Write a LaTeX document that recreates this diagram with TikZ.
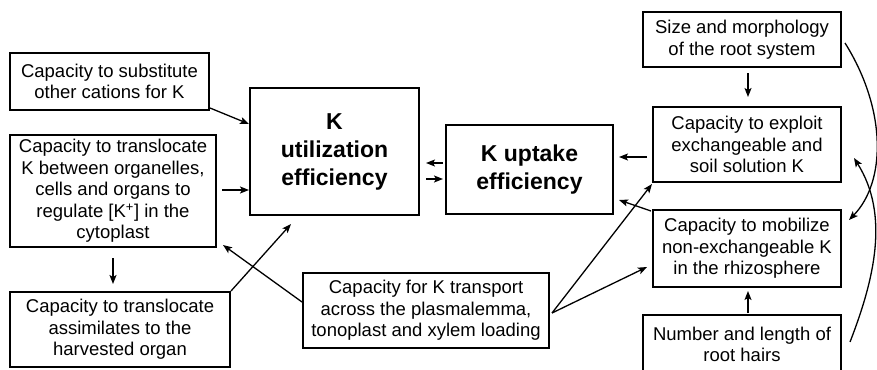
\documentclass[tikz,border=0pt]{standalone}
\usepackage{fontspec}
\setmainfont{Liberation Sans}
\usetikzlibrary{arrows.meta,calc}
\tikzset{
  box/.style={draw=black, line width=2pt, rectangle, inner sep=0pt, align=center,
    font=\fontsize{18.5}{21.5}\selectfont},
  bigbox/.style={box, font=\fontsize{23}{28}\selectfont\bfseries},
  arr/.style={line width=1.3pt, -{Stealth[length=9pt,width=7pt,inset=2pt]}},
}
\begin{document}
\begin{tikzpicture}[x=1pt,y=-1pt]
\useasboundingbox (0,0) rectangle (877,369);
% nodes
\node[box, minimum width=199pt, minimum height=57pt] (b1) at (109.5,81.5) {Capacity to substitute\\other cations for K};
\node[box, minimum width=206pt, minimum height=112pt] (b2) at (113,191) {Capacity to translocate\\K between organelles,\\cells and organs to\\regulate [K\textsuperscript{+}] in the\\cytoplast};
\node[box, minimum width=220pt, minimum height=75pt] (b3) at (120,329.5) {Capacity to translocate\\assimilates to the\\harvested organ};
\node[bigbox, minimum width=169pt, minimum height=127pt] (util) at (334.5,151.5) {K\\utilization\\efficiency};
\node[bigbox, minimum width=167pt, minimum height=89pt] (up) at (529.5,169.5) {K uptake\\efficiency};
\node[box, minimum width=246pt, minimum height=75pt] (tr) at (426,310.5) {Capacity for K transport\\across the plasmalemma,\\tonoplast and xylem loading};
\node[box, minimum width=198pt, minimum height=55pt] (size) at (742,39.5) {Size and morphology\\of the root system};
\node[box, minimum width=188pt, minimum height=75pt] (ex) at (747,144.5) {Capacity to exploit\\exchangeable and\\soil solution K};
\node[box, minimum width=188pt, minimum height=77pt] (mob) at (747,248.5) {Capacity to mobilize\\non-exchangeable K\\in the rhizosphere};
\node[box, minimum width=198pt, minimum height=59pt] (hr) at (742,344.5) {Number and length of\\root hairs};
% connectors left
\draw[arr] ([yshift=3pt]b1.south east) -- ([yshift=27.5pt]util.west);
\draw[arr] ([xshift=5pt,yshift=1pt]b2.east) -- ([yshift=-38.5pt]util.west);
\draw[arr] ([yshift=-10pt]b2.south) -- ([yshift=-36pt]b2.south);
\draw[arr] (b3.north east) -- ([xshift=-43.5pt,yshift=-8pt]util.south);
\coordinate (tro) at ([xshift=2pt,yshift=-2.5pt]tr.east);
\draw[arr] ([yshift=8.5pt]tr.west) -- ([xshift=6pt,yshift=3pt]b2.south east);
\draw[arr] (tro) -- ([yshift=-1pt]ex.south west);
\draw[arr] (tro) -- ([xshift=-5pt,yshift=-18.5pt]mob.west);
% util <-> uptake
\draw[arr] ([xshift=23pt,yshift=-11.5pt]util.east) -- ([xshift=6pt,yshift=-11.5pt]util.east);
\draw[arr] ([xshift=6pt,yshift=-27.5pt]util.east) -- ([xshift=23pt,yshift=-27.5pt]util.east);
% right side
\draw[arr] ([xshift=-5pt,yshift=-12.5pt]ex.west) -- ([xshift=5pt,yshift=12.5pt]up.east);
\draw[arr] ([xshift=-1pt,yshift=-2pt]mob.north west) -- ([xshift=5pt,yshift=15pt]up.south east);
\draw[arr] ([xshift=6pt,yshift=-5pt]size.south) -- ([xshift=1pt,yshift=9pt]ex.north);
\draw[arr] ([xshift=6pt,yshift=1pt]hr.north) -- ([xshift=1pt,yshift=-3pt]mob.south);
\draw[arr] ([xshift=3pt,yshift=-3.5pt]size.east) .. controls (887,110) and (886,182) .. ([xshift=7pt,yshift=28.5pt]mob.east);
\draw[arr] ([xshift=8pt,yshift=2.5pt]hr.east) .. controls (874,280) and (890,215) .. ([xshift=12pt,yshift=-13.5pt]ex.east);
\end{tikzpicture}
\end{document}
